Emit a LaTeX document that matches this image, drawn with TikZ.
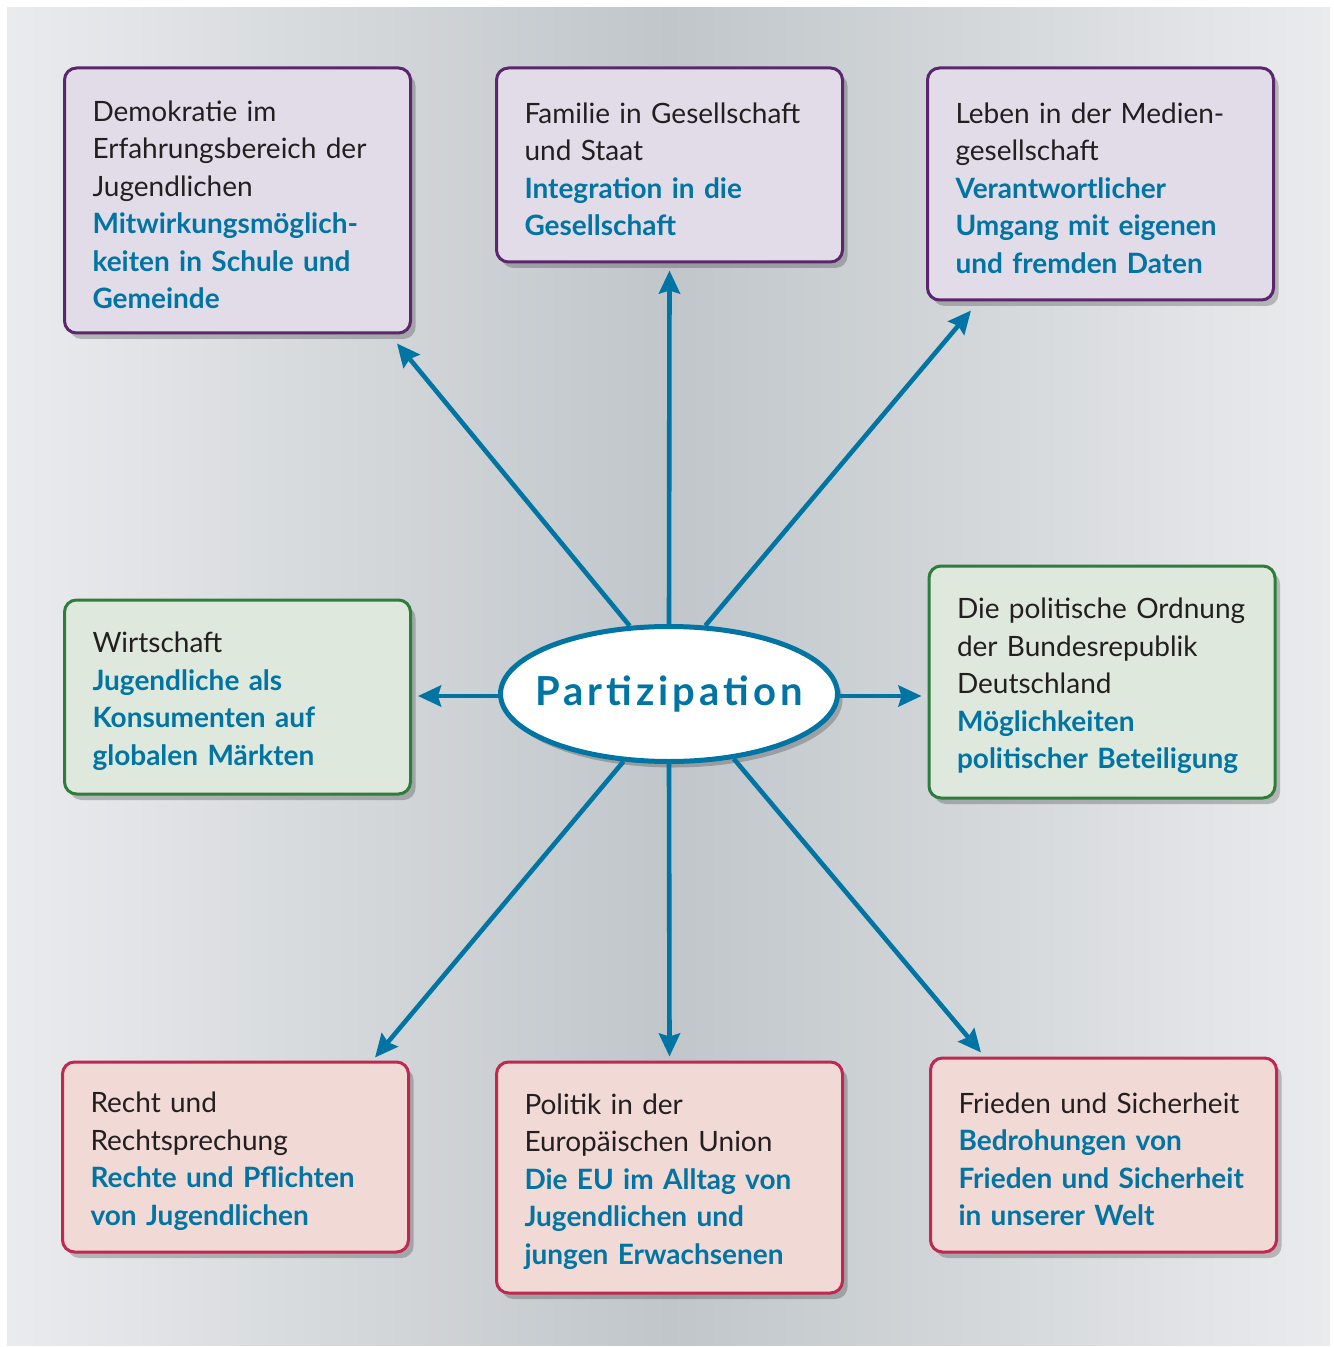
\documentclass[tikz,border=0pt]{standalone}
\usepackage{fontspec}
\setmainfont{Lato}
\usetikzlibrary{shapes,shadows,arrows.meta}
\definecolor{partblue}{RGB}{0,116,163}
\definecolor{textdark}{RGB}{35,31,32}
\definecolor{lila}{RGB}{92,38,110}
\definecolor{lilafill}{RGB}{226,220,232}
\definecolor{gruen}{RGB}{46,125,58}
\definecolor{gruenfill}{RGB}{223,232,221}
\definecolor{rot}{RGB}{192,40,80}
\definecolor{rotfill}{RGB}{241,217,214}
\definecolor{panelside}{RGB}{234,235,237}
\definecolor{panelmid}{RGB}{192,198,202}
\newcommand{\blau}[1]{{\bfseries\color{partblue}#1}}

\begin{document}
\begin{tikzpicture}[x=0.5pt,y=-0.5pt,font=\fontsize{14}{18.75}\selectfont,
	box/.style={rounded corners=6pt, line width=1.5pt, text=textdark, align=left,
		text width=145pt, inner xsep=14pt, inner ysep=0pt, minimum width=172.5pt,
		execute at begin node={\rule{0pt}{14.5pt}},
		drop shadow={shadow xshift=2.5pt, shadow yshift=-3pt, opacity=.22, fill=black}},
	lilabox/.style={box, draw=lila, fill=lilafill},
	gruenbox/.style={box, draw=gruen, fill=gruenfill},
	rotbox/.style={box, draw=rot, fill=rotfill},
	pfeil/.style={draw=partblue, line width=2.3pt, -{Stealth[length=11.5pt, width=10.5pt, inset=1.5pt]}}]
	\useasboundingbox (0,0) rectangle (1333,1347);
	
	% draw background
	\fill[white] (0,0) rectangle (1333,1347);
	\shade[left color=panelside, right color=panelmid] (7,8) rectangle (670,1345);
	\shade[left color=panelmid, right color=panelside] (669,8) rectangle (1330,1345);
	
	% draw boxes top
	\node[lilabox, minimum height=132.5pt] (demo) at (237.5,200.5)
		{Demokratie im\\Erfahrungsbereich der\\Jugendlichen\\\blau{Mitwirkungsmöglich-\\keiten in Schule und\\Gemeinde}};
	\node[lilabox, minimum height=97pt] (familie) at (669.5,165)
		{Familie in Gesellschaft\\und Staat\\\blau{Integration in die\\Gesellschaft}};
	\node[lilabox, minimum height=116pt] (medien) at (1100.5,184)
		{Leben in der Medien-\\gesellschaft\\\blau{Verantwortlicher\\Umgang mit eigenen\\und fremden Daten}};
	
	% draw boxes middle
	\node[gruenbox, minimum height=97pt] (wirtschaft) at (237.5,697)
		{Wirtschaft\\\blau{Jugendliche als\\Konsumenten auf\\globalen Märkten}};
	\node[gruenbox, minimum height=116pt] (ordnung) at (1102,682)
		{Die politische Ordnung\\der Bundesrepublik\\Deutschland\\\blau{Möglichkeiten\\politischer Beteiligung}};
	
	% draw boxes bottom
	\node[rotbox, minimum height=95pt] (recht) at (235.5,1157)
		{Recht und\\Rechtsprechung\\\blau{Rechte und Pflichten\\von Jugendlichen}};
	\node[rotbox, minimum height=115.5pt] (eu) at (669.5,1177.5)
		{Politik in der\\Europäischen Union\\\blau{Die EU im Alltag von\\Jugendlichen und\\jungen Erwachsenen}};
	\node[rotbox, minimum height=97pt] (frieden) at (1103.5,1155)
		{Frieden und Sicherheit\\\blau{Bedrohungen von\\Frieden und Sicherheit\\in unserer Welt}};
	
	% draw center
	\node[ellipse, draw=partblue, line width=2.5pt, fill=white, inner sep=0pt,
		minimum width=168.5pt, minimum height=67.5pt,
		drop shadow={shadow xshift=2.5pt, shadow yshift=-3pt, opacity=.22, fill=black}] (part) at (669,694)
		{\makebox[0pt]{\fontsize{20}{22}\selectfont\bfseries\color{partblue}\addfontfeatures{LetterSpace=10}Partizipation}};
	
	% draw arrows
	\draw[pfeil] (part.120) -- ([shift={(-15,9)}]demo.south east);
	\draw[pfeil] (part.north) -- ([shift={(0,7)}]familie.south);
	\draw[pfeil] (part.62) -- ([shift={(45,9)}]medien.south west);
	\draw[pfeil, shorten >=3pt] ([yshift=-1pt]part.west) -- ([yshift=-1pt]part.west -| wirtschaft.east);
	\draw[pfeil, shorten >=3pt] ([yshift=-1pt]part.east) -- ([yshift=-1pt]part.east -| ordnung.west);
	\draw[pfeil] (part.236) -- ([shift={(-35,-3)}]recht.north east);
	\draw[pfeil] (part.south) -- ([shift={(0,-4)}]eu.north);
	\draw[pfeil] (part.315) -- ([shift={(52,-4)}]frieden.north west);
\end{tikzpicture}
\end{document}
